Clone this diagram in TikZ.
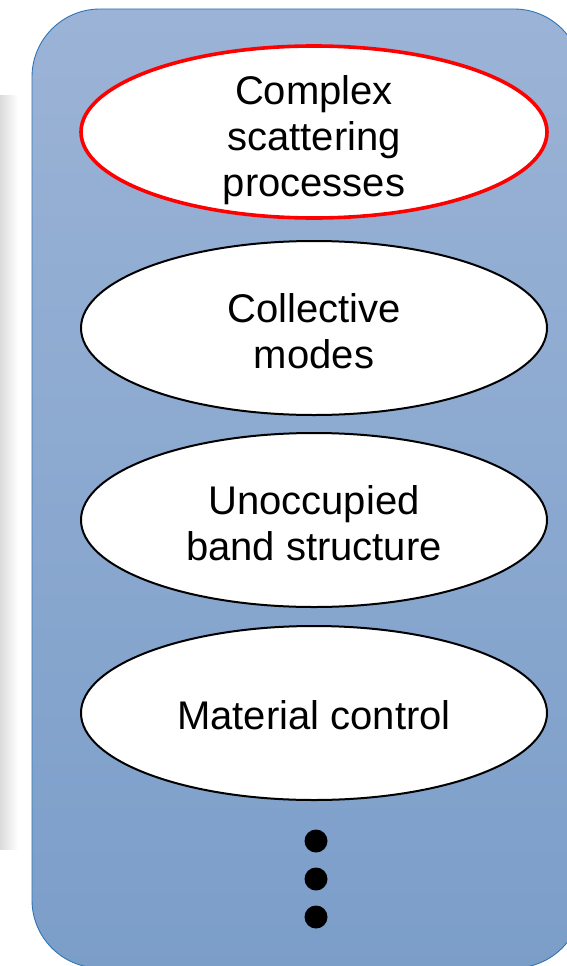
\documentclass[tikz,border=0pt]{standalone}
\usepackage{fontspec}
\setmainfont{Liberation Sans}
\usetikzlibrary{shapes.geometric,fadings}

\definecolor{paneltop}{RGB}{155,179,214}
\definecolor{panelbot}{RGB}{123,158,201}
\definecolor{paneledge}{RGB}{46,117,182}

\begin{document}
\begin{tikzpicture}[x=1pt,y=-1pt,
  topic/.style={ellipse,draw=black,line width=2pt,fill=white,
    minimum width=466pt,minimum height=174pt,inner sep=0pt},
  hot/.style={topic,draw=red,line width=3.6pt,minimum height=172pt},
  caption/.style={align=center,font=\fontsize{40}{46}\selectfont,inner sep=0pt}]

  \useasboundingbox (0,0) rectangle (567,966);
  \clip (0,0) rectangle (567,966);

  \def\panel{(32,9) rectangle (582,968)}

  % faint shadow on the far left
  \fill[black!14,path fading=east] (0,95) rectangle (18,850);

  \shade[top color=paneltop,bottom color=panelbot,rounded corners=68pt] \panel;
  \draw[paneledge,line width=0.9pt,rounded corners=68pt] \panel;

  \node[hot]   (scatter)  at (314,132) {};
  \node[topic] (modes)    at (314,328) {};
  \node[topic] (bands)    at (314,520) {};
  \node[topic] (material) at (314,713) {};

  \node[caption] (scatter-txt)  at (314,140) {Complex\\scattering\\processes};
  \node[caption] (modes-txt)    at (314,331) {Collective\\modes};
  \node[caption] (bands-txt)    at (314,523) {Unoccupied\\band structure};
  \node[caption] (material-txt) at (314,715) {Material control};

  % more to come
  \foreach \y in {841,879,917}
    \fill (316,\y) circle (11.5pt);

\end{tikzpicture}
\end{document}
